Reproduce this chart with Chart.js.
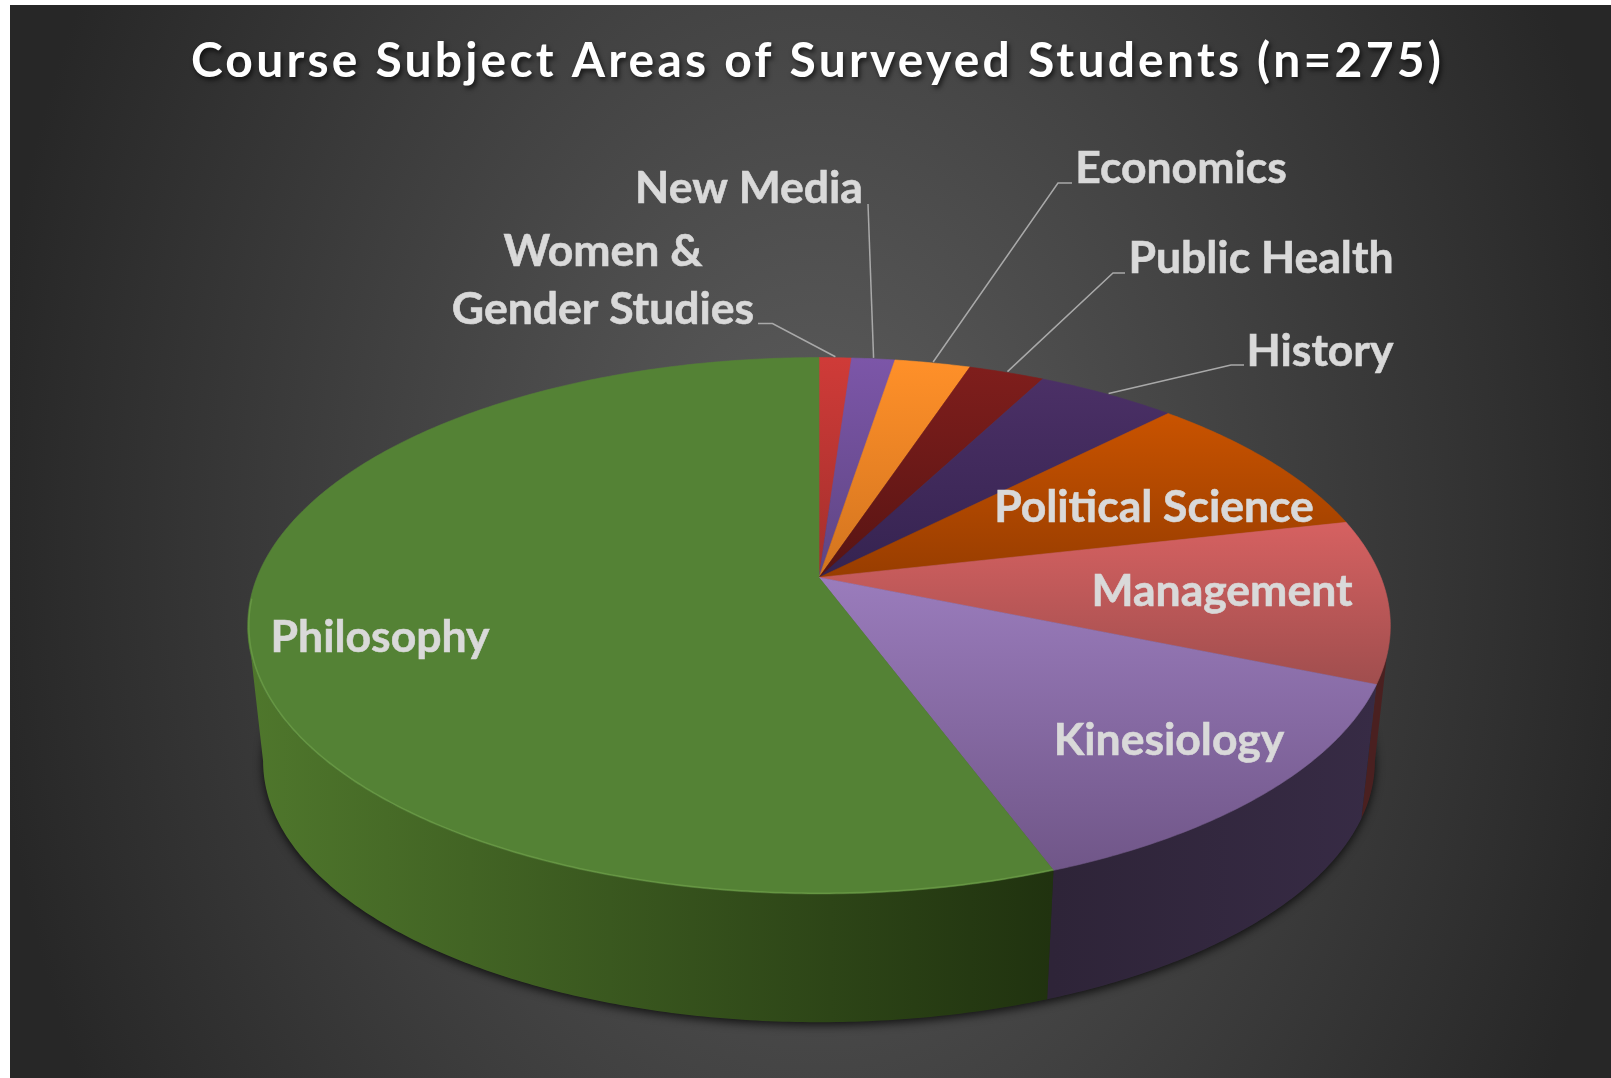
<!DOCTYPE html>
<html>
<head>
<meta charset="utf-8">
<title>Course Subject Areas</title>
<script src="https://cdn.jsdelivr.net/npm/chart.js@4"></script>
<style>
  body { margin: 0; background: #fff; }
  canvas { display: block; }
</style>
</head>
<body>
<canvas id="subjectChart" width="1611" height="1078"></canvas>
<script>
// Data (students out of n=275), clockwise from 12 o'clock
const categories = ['Women & Gender Studies', 'New Media', 'Economics', 'Public Health', 'History',
  'Political Science', 'Management', 'Kinesiology', 'Philosophy'];
const studentCounts = [3, 4, 7, 7, 13, 25, 27, 36, 153];
const chartTitle = 'Course Subject Areas of Surveyed Students (n=275)';

// Slice colours: far end of the top face, near end of the top face, side wall left/right
const topColorsFar = ['#cf3b38', '#7c56a8', '#ff9029', '#7f1e1c', '#4b3066', '#c95300', '#d66161', '#9a7cbc', '#548235'];
const topColorsNear = ['#a32f2c', '#5e4583', '#d2741f', '#571413', '#352350', '#983d00', '#a04e4e', '#705688', '#548235'];
const wallColorsLeft = ['#000', '#000', '#000', '#000', '#000', '#000', '#4a2020', '#2e2438', '#4f772c'];
const wallColorsRight = ['#000', '#000', '#000', '#000', '#000', '#000', '#4a2020', '#372b45', '#20320f'];

// Label placement: centre x, baseline y, and the leader's elbow points (if any)
const labelLayout = [
  { lines: ['Women &', 'Gender Studies'], x: 603, y: [266, 324], leader: [[758, 323.5], [772.5, 323.5]] },
  { lines: ['New Media'], x: 749, y: [203], leader: [[868, 204]] },
  { lines: ['Economics'], x: 1181, y: [183], leader: [[1072, 183], [1058, 183]] },
  { lines: ['Public Health'], x: 1261, y: [273], leader: [[1125, 273], [1113, 273]] },
  { lines: ['History'], x: 1320, y: [366], leader: [[1244, 365], [1231, 365]] },
  { lines: ['Political Science'], x: 1154, y: [522] },
  { lines: ['Management'], x: 1222, y: [606] },
  { lines: ['Kinesiology'], x: 1169, y: [755] },
  { lines: ['Philosophy'], x: 380, y: [652] }
];

// Perspective of the tilted disc: circle (u, v) -> screen
const view = {
  cx: 819, cy: 577.5,
  a: 259.5, b: 562, p: -0.18,
  bottomCy: 761.3, ellipseDrop: 48.3, bottomScale: 0.973
};

function topPoint(angle, r) {
  const u = r * Math.cos(angle), v = r * Math.sin(angle);
  const w = 1 + view.p * v;
  return { x: view.cx + view.b * u / w, y: view.cy + view.a * v / w };
}

function bottomPoint(angle) {
  const t = topPoint(angle, 1);
  return {
    x: view.cx + view.bottomScale * (t.x - view.cx),
    y: view.bottomCy + view.bottomScale * (t.y - view.cy - view.ellipseDrop)
  };
}

function angleSteps(start, end) {
  const steps = Math.max(2, Math.ceil((end - start) / 0.01));
  const out = [];
  for (let i = 0; i <= steps; i++) out.push(start + (end - start) * i / steps);
  return out;
}

const tilted3dPie = {
  id: 'tilted3dPie',
  beforeDraw(chart) {
    const ctx = chart.ctx;
    // Panel background
    ctx.save();
    ctx.translate(815, 540);
    ctx.scale(1, 1.4);
    const bg = ctx.createRadialGradient(0, 0, 60, 0, 0, 830);
    bg.addColorStop(0, '#5a5a5a');
    bg.addColorStop(1, '#272727');
    ctx.fillStyle = bg;
    ctx.fillRect(10 - 815, (5 - 540) / 1.4, 1611, 1078 / 1.4);
    ctx.restore();
    // Title shadow + tracking are picked up by the title box, drawn next
    ctx.shadowColor = 'rgba(0, 0, 0, 0.65)';
    ctx.shadowBlur = 5;
    ctx.shadowOffsetX = 2;
    ctx.shadowOffsetY = 3;
    ctx.letterSpacing = '3.2px';
  },
  beforeDatasetsDraw(chart) {
    const ctx = chart.ctx;
    ctx.shadowColor = 'transparent';
    ctx.shadowBlur = 0;
    ctx.shadowOffsetX = 0;
    ctx.shadowOffsetY = 0;
    ctx.letterSpacing = '0px';
  },
  // Replace the flat arcs: angles still come from Chart.js' own arc elements
  beforeDatasetDraw(chart) {
    const ctx = chart.ctx;
    const arcs = chart.getDatasetMeta(0).data;
    const wallStart = Math.asin(-view.p);
    const wallEnd = Math.PI - wallStart;

    // Ground shadow under the pie
    ctx.save();
    ctx.shadowColor = 'rgba(0, 0, 0, 0.75)';
    ctx.shadowBlur = 10;
    ctx.shadowOffsetY = 3;
    ctx.fillStyle = '#222';
    ctx.beginPath();
    angleSteps(0, Math.PI * 2).forEach(a => {
      const p = bottomPoint(a);
      ctx.lineTo(p.x, p.y);
    });
    ctx.closePath();
    ctx.fill();
    ctx.restore();

    // Side walls
    arcs.forEach((arc, i) => {
      const start = Math.max(arc.startAngle, wallStart);
      const end = Math.min(arc.endAngle, wallEnd);
      if (end <= start) return;
      const steps = angleSteps(start, end);
      const xs = steps.map(a => topPoint(a, 1).x);
      const grad = ctx.createLinearGradient(Math.min(...xs), 0, Math.max(...xs), 0);
      grad.addColorStop(0, wallColorsLeft[i]);
      grad.addColorStop(1, wallColorsRight[i]);
      ctx.fillStyle = grad;
      ctx.beginPath();
      steps.forEach(a => {
        const p = topPoint(a, 1);
        ctx.lineTo(p.x, p.y);
      });
      steps.slice().reverse().forEach(a => {
        const p = bottomPoint(a);
        ctx.lineTo(p.x, p.y);
      });
      ctx.closePath();
      ctx.fill();
    });

    // Top faces
    arcs.forEach((arc, i) => {
      const steps = angleSteps(arc.startAngle, arc.endAngle);
      const ys = steps.map(a => topPoint(a, 1).y).concat(view.cy);
      const grad = ctx.createLinearGradient(0, Math.min(...ys), 0, Math.max(...ys));
      grad.addColorStop(0, topColorsFar[i]);
      grad.addColorStop(1, topColorsNear[i]);
      ctx.fillStyle = grad;
      ctx.strokeStyle = grad;
      ctx.lineWidth = 0.6;
      ctx.beginPath();
      ctx.moveTo(view.cx, view.cy);
      steps.forEach(a => {
        const p = topPoint(a, 1);
        ctx.lineTo(p.x, p.y);
      });
      ctx.closePath();
      ctx.fill();
      ctx.stroke();
    });

    // Soft light bevel along the front rim of the largest slice
    const last = arcs[arcs.length - 1];
    ctx.strokeStyle = 'rgba(170, 225, 120, 0.22)';
    ctx.lineWidth = 1.5;
    ctx.beginPath();
    angleSteps(last.startAngle, wallEnd + 0.1).forEach(a => {
      const p = topPoint(a, 0.998);
      ctx.lineTo(p.x, p.y);
    });
    ctx.stroke();

    return false;
  },
  afterDatasetsDraw(chart) {
    const ctx = chart.ctx;
    const arcs = chart.getDatasetMeta(0).data;

    // Leader lines run from the middle of the slice's rim
    ctx.strokeStyle = '#a9a9a9';
    ctx.lineWidth = 1.5;
    labelLayout.forEach((item, i) => {
      if (!item.leader) return;
      const mid = topPoint((arcs[i].startAngle + arcs[i].endAngle) / 2, 1.005);
      ctx.beginPath();
      item.leader.forEach(pt => ctx.lineTo(pt[0], pt[1]));
      ctx.lineTo(mid.x, mid.y);
      ctx.stroke();
    });

    ctx.fillStyle = '#d9d9d9';
    ctx.strokeStyle = '#d9d9d9';
    ctx.lineWidth = 0.6;
    ctx.font = 'bold 44.5px Lato';
    ctx.textAlign = 'center';
    ctx.textBaseline = 'alphabetic';
    labelLayout.forEach(item => {
      item.lines.forEach((line, j) => {
        ctx.fillText(line, item.x, item.y[j]);
        ctx.strokeText(line, item.x, item.y[j]);
      });
    });
  }
};

new Chart(document.getElementById('subjectChart'), {
  type: 'pie',
  data: {
    labels: categories,
    datasets: [{ data: studentCounts, backgroundColor: topColorsFar, borderWidth: 0 }]
  },
  options: {
    responsive: false,
    animation: false,
    layout: { padding: { left: 24 } },
    plugins: {
      legend: { display: false },
      tooltip: { enabled: false },
      title: {
        display: true,
        text: chartTitle,
        color: '#ffffff',
        font: { family: 'Lato', size: 48, weight: 'bold' },
        padding: { top: 33, bottom: 20 }
      }
    }
  },
  plugins: [tilted3dPie]
});
</script>
</body>
</html>
